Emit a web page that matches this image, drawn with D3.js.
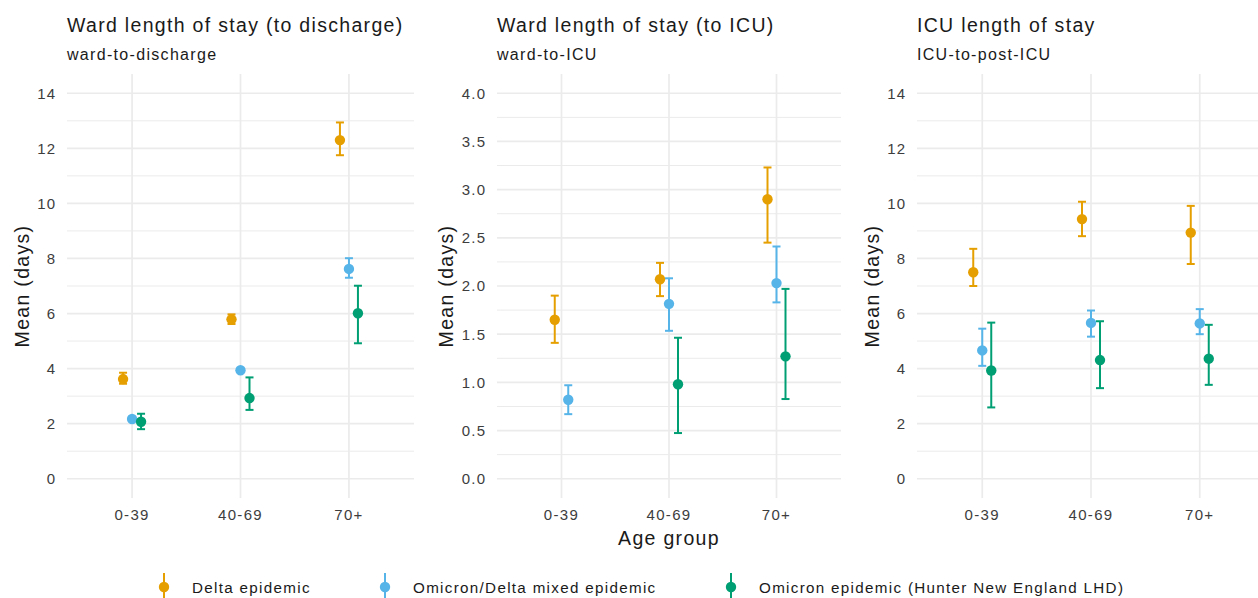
<!DOCTYPE html>
<html>
<head>
  <meta charset="utf-8">
  <title>Length of stay by age group</title>
  <script src="https://d3js.org/d3.v7.min.js"></script>
  <style>
    body { margin: 0; background: #fff; }
    svg { display: block; font-family: "Liberation Sans", Arial, sans-serif; letter-spacing: 0.082em; }
  </style>
</head>
<body>
  <svg width="1258" height="598"></svg>

  <script>
    const ageGroups = ["0-39", "40-69", "70+"];
    const seriesNames = ["Delta epidemic", "Omicron/Delta mixed epidemic", "Omicron epidemic (Hunter New England LHD)"];
    const seriesColors = ["#E69F00", "#56B4E9", "#009E73"];

    const panelTitles = ["Ward length of stay (to discharge)", "Ward length of stay (to ICU)", "ICU length of stay"];
    const panelSubtitles = ["ward-to-discharge", "ward-to-ICU", "ICU-to-post-ICU"];

    const yTicksDays = [0, 2, 4, 6, 8, 10, 12, 14];
    const yTicksToIcu = [0, 0.5, 1, 1.5, 2, 2.5, 3, 3.5, 4];

    // rows = series (Delta, Omicron/Delta, Omicron HNE), cols = age groups
    const dischargeMean = [[3.62, 5.79, 12.30], [2.17, 3.94, 7.62], [2.07, 2.93, 6.01]];
    const dischargeLow  = [[3.45, 5.62, 11.75], [2.11, 3.88, 7.30], [1.80, 2.50, 4.92]];
    const dischargeHigh = [[3.85, 5.97, 12.94], [2.23, 4.00, 8.01], [2.36, 3.68, 7.01]];

    const toIcuMean = [[1.65, 2.07, 2.90], [0.82, 1.815, 2.03], [null, 0.98, 1.27]];
    const toIcuLow  = [[1.41, 1.895, 2.45], [0.67, 1.535, 1.83], [null, 0.474, 0.827]];
    const toIcuHigh = [[1.90, 2.24, 3.23], [0.97, 2.08, 2.41], [null, 1.463, 1.97]];

    const icuMean = [[7.50, 9.43, 8.94], [4.66, 5.66, 5.64], [3.93, 4.31, 4.36]];
    const icuLow  = [[7.00, 8.81, 7.80], [4.10, 5.16, 5.25], [2.59, 3.29, 3.41]];
    const icuHigh = [[8.35, 10.06, 9.91], [5.45, 6.11, 6.16], [5.67, 5.72, 5.59]];

    const panels = [
      { left: 67, right: 414, yDomain: [-0.7, 14.7], ticks: yTicksDays, minor: 1, fmt: d3.format("d"), yTitleX: 22,
        mean: dischargeMean, low: dischargeLow, high: dischargeHigh },
      { left: 497, right: 841, yDomain: [-0.2, 4.2], ticks: yTicksToIcu, minor: 0.25, fmt: d3.format(".1f"), yTitleX: 446,
        mean: toIcuMean, low: toIcuLow, high: toIcuHigh },
      { left: 917, right: 1265, yDomain: [-0.7, 14.7], ticks: yTicksDays, minor: 1, fmt: d3.format("d"), yTitleX: 872,
        mean: icuMean, low: icuLow, high: icuHigh }
    ];

    const plotTop = 74, plotBottom = 498;
    const dodge = 27;
    const grid = "#ebebeb";
    const svg = d3.select("svg");

    panels.forEach((p, pi) => {
      const g = svg.append("g");
      const x = d3.scalePoint().domain(ageGroups).range([p.left, p.right]).padding(0.6);
      const y = d3.scaleLinear().domain(p.yDomain).range([plotBottom, plotTop]);

      // minor grid
      const minorTicks = d3.range(p.ticks[0] + p.minor, p.ticks[p.ticks.length - 1], p.minor * 2);
      g.selectAll(".minor").data(minorTicks).enter().append("line")
        .attr("x1", p.left).attr("x2", p.right)
        .attr("y1", d => y(d)).attr("y2", d => y(d))
        .attr("stroke", grid).attr("stroke-width", 1);

      // major grid
      g.selectAll(".major").data(p.ticks).enter().append("line")
        .attr("x1", p.left).attr("x2", p.right)
        .attr("y1", d => y(d)).attr("y2", d => y(d))
        .attr("stroke", grid).attr("stroke-width", 1.7);

      g.selectAll(".vgrid").data(ageGroups).enter().append("line")
        .attr("x1", d => x(d)).attr("x2", d => x(d))
        .attr("y1", plotTop).attr("y2", plotBottom)
        .attr("stroke", grid).attr("stroke-width", 1.7);

      // axis labels
      g.selectAll(".ylab").data(p.ticks).enter().append("text")
        .attr("x", p.left - 10.5).attr("y", d => y(d)).attr("dy", "0.36em")
        .attr("text-anchor", "end").attr("font-size", 15).attr("fill", "#3d3d3d")
        .text(d => p.fmt(d));

      g.selectAll(".xlab").data(ageGroups).enter().append("text")
        .attr("x", d => x(d)).attr("y", 520)
        .attr("text-anchor", "middle").attr("font-size", 15).attr("fill", "#3d3d3d")
        .text(d => d);

      g.append("text")
        .attr("transform", `translate(${p.yTitleX},${(plotTop + plotBottom) / 2}) rotate(-90)`)
        .attr("dy", "0.36em").attr("text-anchor", "middle")
        .attr("font-size", 19.5).attr("fill", "#1a1a1a")
        .text("Mean (days)");

      g.append("text").attr("x", p.left).attr("y", 32.3)
        .attr("font-size", 19.5).attr("fill", "#1a1a1a").text(panelTitles[pi]);
      g.append("text").attr("x", p.left).attr("y", 60)
        .attr("font-size", 16).attr("fill", "#1a1a1a").text(panelSubtitles[pi]);

      // build dodged points
      const pts = [];
      ageGroups.forEach((age, ai) => {
        const present = seriesNames.map((s, si) => si).filter(si => p.mean[si][ai] != null);
        const n = present.length;
        present.forEach((si, k) => {
          pts.push({
            x: x(age) + (k - (n - 1) / 2) * dodge / n,
            mean: p.mean[si][ai], lo: p.low[si][ai], hi: p.high[si][ai],
            color: seriesColors[si]
          });
        });
      });

      const eb = g.selectAll(".eb").data(pts).enter().append("g")
        .attr("stroke", d => d.color).attr("stroke-width", 2);
      eb.append("line").attr("x1", d => d.x).attr("x2", d => d.x)
        .attr("y1", d => y(d.lo)).attr("y2", d => y(d.hi));
      eb.append("line").attr("x1", d => d.x - 4).attr("x2", d => d.x + 4)
        .attr("y1", d => y(d.lo)).attr("y2", d => y(d.lo));
      eb.append("line").attr("x1", d => d.x - 4).attr("x2", d => d.x + 4)
        .attr("y1", d => y(d.hi)).attr("y2", d => y(d.hi));

      g.selectAll(".pt").data(pts).enter().append("circle")
        .attr("cx", d => d.x).attr("cy", d => y(d.mean)).attr("r", 5.2)
        .attr("fill", d => d.color);
    });

    // x axis title
    svg.append("text").attr("x", (panels[1].left + panels[1].right) / 2).attr("y", 545)
      .attr("text-anchor", "middle").attr("font-size", 19.5).attr("fill", "#1a1a1a")
      .text("Age group");

    // legend
    const legendX = [164, 385, 731];
    const lg = svg.selectAll(".legend").data(seriesNames).enter().append("g")
      .attr("transform", (d, i) => `translate(${legendX[i]},587)`);
    lg.append("line").attr("y1", -14).attr("y2", 14)
      .attr("stroke", (d, i) => seriesColors[i]).attr("stroke-width", 2);
    lg.append("circle").attr("r", 5.2).attr("fill", (d, i) => seriesColors[i]);
    lg.append("text").attr("x", 28).attr("y", 5.5)
      .attr("font-size", 15.2).attr("fill", "#1a1a1a").text(d => d);
  </script>
</body>
</html>
